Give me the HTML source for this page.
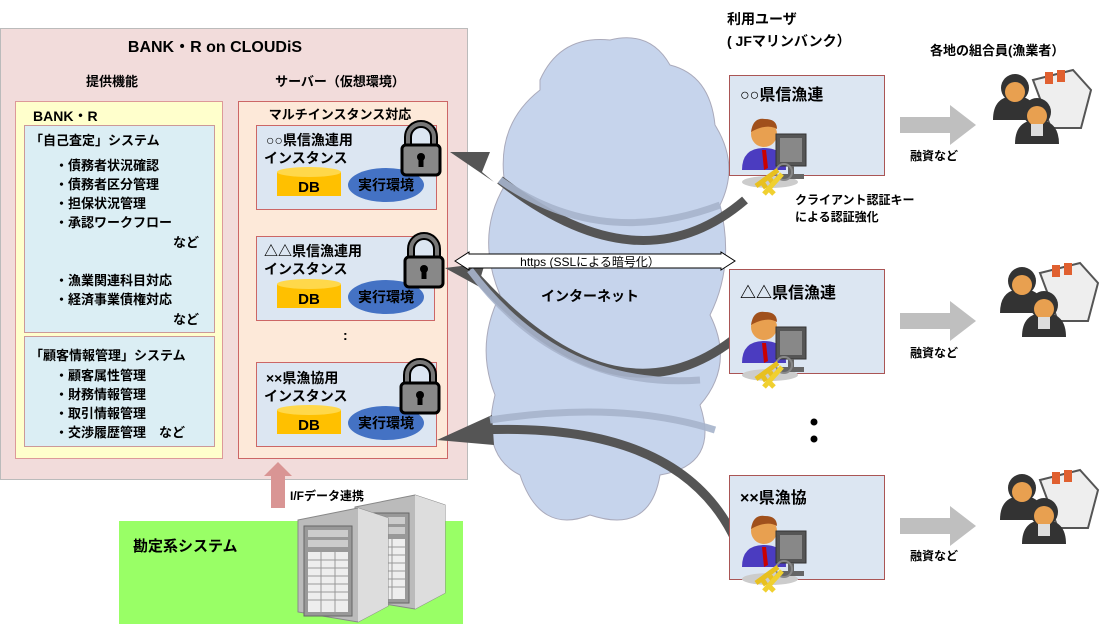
<!DOCTYPE html>
<html><head><meta charset="utf-8"><style>
html,body{margin:0;padding:0;background:#fff;width:1117px;height:632px;overflow:hidden}
text{font-family:"Liberation Sans","Noto Sans CJK JP",sans-serif;font-weight:bold;fill:#000}
</style></head><body>
<svg width="1117" height="632" viewBox="0 0 1117 632" xmlns="http://www.w3.org/2000/svg">
<defs>
<g id="lock">
<path d="M-13,2 v-10 a13,13 0 0 1 26,0 v10" fill="none" stroke="#000" stroke-width="8"/>
<path d="M-13,2 v-10 a13,13 0 0 1 26,0 v10" fill="none" stroke="#777" stroke-width="4"/>
<rect x="-19" y="0" width="38" height="30" rx="4" fill="#888" stroke="#000" stroke-width="3"/>
<circle cx="0" cy="12" r="4" fill="#000"/><rect x="-2.5" y="12" width="5" height="10" fill="#000"/>
</g>
<g id="user">
<ellipse cx="30" cy="72" rx="28" ry="6" fill="#ccc"/>
<path d="M2,60 q0,-22 22,-22 q22,0 22,22 z" fill="#4b3cc0"/>
<path d="M22,40 l4,0 l2,18 l-4,2 z" fill="#c00"/>
<circle cx="24" cy="24" r="13" fill="#e8a050"/>
<path d="M11,22 q2,-15 14,-13 q12,0 12,10 q-10,-6 -26,3z" fill="#a0501c"/>
<rect x="36" y="24" width="30" height="32" fill="#555" stroke="#333"/>
<rect x="40" y="28" width="22" height="24" fill="#888"/>
<rect x="48" y="56" width="6" height="10" fill="#666"/><rect x="40" y="64" width="24" height="5" fill="#666"/>
<circle cx="44" cy="62" r="8" fill="none" stroke="#888" stroke-width="2"/>
<path d="M38,60 l-22,16 m6,-4 l4,6 m4,-9 l4,6" stroke="#e8c020" stroke-width="5" fill="none"/>
<path d="M42,64 l-18,20 m5,-5 l5,5" stroke="#f0d030" stroke-width="5" fill="none"/>
</g>
<g id="crew">
<path d="M40,10 l40,-10 l18,20 l-10,38 l-30,0 z" fill="#eee" stroke="#555" stroke-width="2"/>
<rect x="52" y="2" width="8" height="12" fill="#e06030"/><rect x="64" y="0" width="8" height="12" fill="#e06030"/>
<path d="M0,50 q0,-24 22,-24 q22,0 22,24 z" fill="#333"/>
<circle cx="22" cy="18" r="14" fill="#333"/><circle cx="22" cy="22" r="10" fill="#e8a050"/>
<path d="M22,74 q0,-24 22,-24 q22,0 22,24 z" fill="#333"/>
<circle cx="44" cy="42" r="14" fill="#333"/><circle cx="44" cy="46" r="10" fill="#e8a050"/>
<rect x="38" y="54" width="12" height="12" fill="#ddd"/>
</g>
<g id="srv">
<path d="M0,20 l60,-12 l30,10 v88 l-30,16 l-60,-10 z" fill="#bbb" stroke="#888"/>
<path d="M60,8 l30,10 v88 l-30,16 z" fill="#ddd"/>
<rect x="6" y="26" width="48" height="90" fill="#999" stroke="#666"/>
<rect x="10" y="30" width="40" height="7" fill="#ccc"/><rect x="10" y="40" width="40" height="7" fill="#ccc"/>
<rect x="10" y="52" width="40" height="60" fill="#eee"/>
<path d="M10,60 h40 M10,68 h40 M10,76 h40 M10,84 h40 M10,92 h40 M10,100 h40 M23,52 v60 M37,52 v60" stroke="#999"/>
</g>
</defs>

<rect x="0.5" y="28.5" width="467" height="451" fill="#f2dcdb" stroke="#bbb"/>
<text x="215" y="52" font-size="16" text-anchor="middle">BANK・R on CLOUDiS</text>
<text x="112" y="86" font-size="13" text-anchor="middle">提供機能</text>
<text x="340" y="86" font-size="13" text-anchor="middle">サーバー（仮想環境）</text>

<rect x="15.5" y="101.5" width="207" height="357" fill="#ffffcc" stroke="#d99"/>
<text x="33" y="121" font-size="14">BANK・R</text>
<rect x="24.5" y="125.5" width="190" height="207" fill="#dbeef4" stroke="#c99"/>
<text x="30" y="145" font-size="13">「自己査定」システム</text>
<g font-size="13">
<text x="55" y="170">・債務者状況確認</text>
<text x="55" y="189">・債務者区分管理</text>
<text x="55" y="208">・担保状況管理</text>
<text x="55" y="227">・承認ワークフロー</text>
<text x="173" y="247">など</text>
<text x="55" y="285">・漁業関連科目対応</text>
<text x="55" y="304">・経済事業債権対応</text>
<text x="173" y="324">など</text>
</g>
<rect x="24.5" y="336.5" width="190" height="110" fill="#dbeef4" stroke="#c99"/>
<g font-size="13">
<text x="30" y="360">「顧客情報管理」システム</text>
<text x="55" y="380">・顧客属性管理</text>
<text x="55" y="399">・財務情報管理</text>
<text x="55" y="418">・取引情報管理</text>
<text x="55" y="437">・交渉履歴管理　など</text>
</g>

<rect x="238.5" y="101.5" width="209" height="357" fill="#fde9d9" stroke="#c66"/>
<text x="340" y="119" font-size="13" text-anchor="middle">マルチインスタンス対応</text>

<g>
<rect x="256.5" y="125.5" width="180" height="84" fill="#dce6f2" stroke="#c66"/>
<text x="266" y="145" font-size="14">○○県信漁連用</text>
<text x="264" y="163" font-size="14">インスタンス</text>
<rect x="277" y="172" width="64" height="24" fill="#ffc000"/><ellipse cx="309" cy="172" rx="32" ry="5" fill="#ffd84a"/>
<text x="309" y="192" font-size="15" text-anchor="middle">DB</text>
<ellipse cx="386" cy="185" rx="38" ry="17" fill="#4472c4"/>
<text x="386" y="190" font-size="14" text-anchor="middle">実行環境</text>
<use href="#lock" x="421" y="145"/>
</g>
<g>
<rect x="256.5" y="236.5" width="178" height="84" fill="#dce6f2" stroke="#c66"/>
<text x="264" y="256" font-size="14">△△県信漁連用</text>
<text x="264" y="274" font-size="14">インスタンス</text>
<rect x="277" y="284" width="64" height="24" fill="#ffc000"/><ellipse cx="309" cy="284" rx="32" ry="5" fill="#ffd84a"/>
<text x="309" y="304" font-size="15" text-anchor="middle">DB</text>
<ellipse cx="386" cy="297" rx="38" ry="17" fill="#4472c4"/>
<text x="386" y="302" font-size="14" text-anchor="middle">実行環境</text>
<use href="#lock" x="424" y="257"/>
</g>
<text x="343" y="340" font-size="14">:</text>
<g>
<rect x="256.5" y="362.5" width="180" height="84" fill="#dce6f2" stroke="#c66"/>
<text x="266" y="383" font-size="14">××県漁協用</text>
<text x="264" y="401" font-size="14">インスタンス</text>
<rect x="277" y="410" width="64" height="24" fill="#ffc000"/><ellipse cx="309" cy="410" rx="32" ry="5" fill="#ffd84a"/>
<text x="309" y="430" font-size="15" text-anchor="middle">DB</text>
<ellipse cx="386" cy="423" rx="38" ry="17" fill="#4472c4"/>
<text x="386" y="428" font-size="14" text-anchor="middle">実行環境</text>
<use href="#lock" x="420" y="383"/>
</g>

<rect x="119" y="521" width="344" height="103" fill="#99ff66"/>
<text x="133" y="551" font-size="15">勘定系システム</text>
<path d="M271,508 v-32 h-7 l14,-14 l14,14 h-7 v32 z" fill="#d99594"/>
<text x="290" y="500" font-size="12">I/Fデータ連携</text>
<use href="#srv" x="355" y="487"/>
<use href="#srv" x="298" y="500"/>

<path d="M540,80 q20,-45 70,-40 q40,-10 60,25 q40,10 45,60 q25,40 5,80 q15,60 -10,110 q25,50 -10,90 q20,60 -40,70 q-10,60 -70,40 q-50,20 -70,-40 q-40,-20 -25,-80 q-20,-50 5,-100 q-25,-60 5,-110 q-10,-60 35,-95 z" fill="#c6d4ec" stroke="#aab" stroke-width="1"/>
<text x="590" y="301" font-size="14" text-anchor="middle">インターネット</text>

<g fill="none" stroke="#555" stroke-width="9">
<path d="M745,200 Q640,290 500,180"/>
<path d="M745,330 Q620,440 470,270"/>
<path d="M745,565 Q700,420 480,430"/>
</g>
<path d="M450,152 l40,0 l-8,20 l12,10 z" fill="#555"/>
<path d="M445,268 l40,-5 l-6,20 l8,8 z" fill="#555"/>
<path d="M437,440 l55,-25 l2,30 z" fill="#555"/>
<g fill="none" stroke="#a7b4cc" stroke-width="7" opacity="0.9">
<path d="M500,180 Q600,250 720,205"/>
<path d="M470,270 Q560,390 700,380"/>
<path d="M490,420 Q620,400 715,430"/>
</g>

<path d="M455,261 l14,-9 v2 h252 v-2 l14,9 l-14,9 v-2 h-252 v2 z" fill="#fff" stroke="#000"/>
<text x="590" y="266" font-size="12" text-anchor="middle" style="font-weight:normal">https (SSLによる暗号化）</text>

<text x="727" y="24" font-size="14">利用ユーザ</text>
<text x="727" y="46" font-size="14">( JFマリンバンク）</text>
<text x="930" y="55" font-size="13">各地の組合員(漁業者）</text>

<rect x="729.5" y="75.5" width="155" height="100" fill="#dce6f2" stroke="#a55"/>
<text x="740" y="100" font-size="16">○○県信漁連</text>
<use href="#user" x="740" y="110"/>
<text x="795" y="204" font-size="12">クライアント認証キー</text>
<text x="795" y="221" font-size="12">による認証強化</text>

<rect x="729.5" y="269.5" width="155" height="104" fill="#dce6f2" stroke="#a55"/>
<text x="740" y="298" font-size="16">△△県信漁連</text>
<use href="#user" x="740" y="303"/>

<circle cx="814" cy="422" r="3.5" fill="#000"/><circle cx="814" cy="439" r="3.5" fill="#000"/>

<rect x="729.5" y="475.5" width="155" height="104" fill="#dce6f2" stroke="#a55"/>
<text x="740" y="503" font-size="16">××県漁協</text>
<use href="#user" x="740" y="507"/>

<g fill="#bfbfbf">
<path d="M900,117 h50 v-12 l26,20 l-26,20 v-12 h-50 z"/>
<path d="M900,313 h50 v-12 l26,20 l-26,20 v-12 h-50 z"/>
<path d="M900,518 h50 v-12 l26,20 l-26,20 v-12 h-50 z"/>
</g>
<text x="910" y="160" font-size="12">融資など</text>
<text x="910" y="357" font-size="12">融資など</text>
<text x="910" y="560" font-size="12">融資など</text>
<use href="#crew" x="993" y="70"/>
<use href="#crew" x="1000" y="263"/>
<use href="#crew" x="1000" y="470"/>
</svg>
</body></html>
